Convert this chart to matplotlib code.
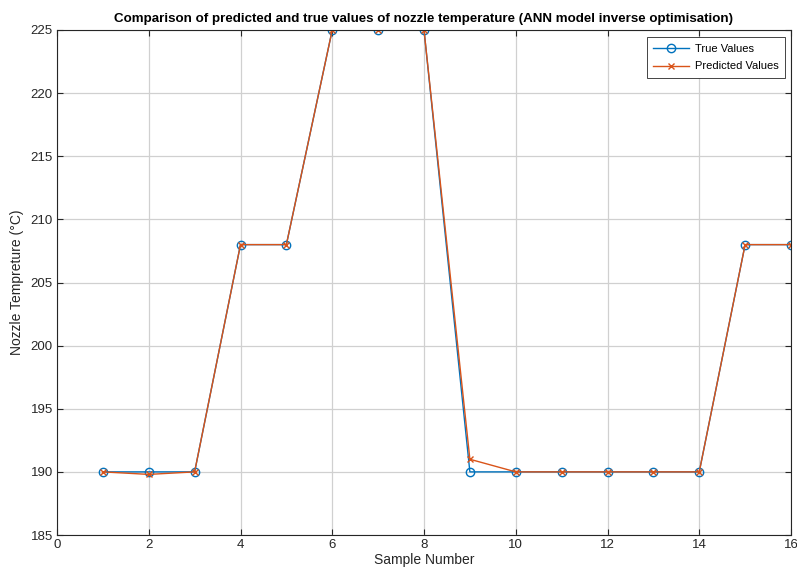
import numpy as np
import matplotlib.pyplot as plt

plt.rcParams['font.family'] = ['Liberation Sans', 'DejaVu Sans']

samples = np.arange(1, 17)
true_vals = [190, 190, 190, 208, 208, 225, 225, 225, 190, 190, 190, 190, 190, 190, 208, 208]
pred_vals = [190, 189.8, 190, 208, 208, 225, 225, 225, 191, 190, 190, 190, 190, 190, 208, 208]

fig = plt.figure(figsize=(7.97, 5.70), dpi=100)
ax = fig.add_axes([57 / 797, 1 - 535 / 570, (791 - 57) / 797, (535 - 30) / 570])

ax.plot(samples, true_vals, color='#0072BD', marker='o', markersize=6,
        markerfacecolor='none', linewidth=1, label='True Values')
ax.plot(samples, pred_vals, color='#D95319', marker='x', markersize=5,
        linewidth=1, label='Predicted Values')

ax.set_xlim(0, 16)
ax.set_ylim(185, 225)
ax.set_xticks(range(0, 17, 2))
ax.set_yticks(range(185, 226, 5))
ax.grid(True, color='#d0d0d0', linewidth=0.9)
ax.set_axisbelow(True)
ax.tick_params(direction='in', top=True, right=True, labelsize=9.5, colors='#262626', length=4, pad=3)
for s in ax.spines.values():
    s.set_color('#262626')
    s.set_linewidth(0.8)

ax.set_xlabel('Sample Number', fontsize=10, color='#262626', labelpad=1)
ax.set_ylabel('Nozzle Tempreture (°C)', fontsize=10, color='#262626', labelpad=5)
ax.set_title('Comparison of predicted and true values of nozzle temperature (ANN model inverse optimisation)',
             fontsize=9.6, fontweight='bold', pad=6)

# legend box placed where the reference has it (top right, inside the axes)
leg = ax.legend(loc='upper right', fontsize=8, fancybox=False, framealpha=1,
                edgecolor='#262626', bbox_to_anchor=(785 / 797, 1 - 37 / 570),
                bbox_transform=fig.transFigure, borderaxespad=0, handlelength=3.2,
                borderpad=0.6, labelspacing=0.7, handletextpad=0.5)
leg.get_frame().set_linewidth(0.6)

fig.savefig('out.png', dpi=100)
